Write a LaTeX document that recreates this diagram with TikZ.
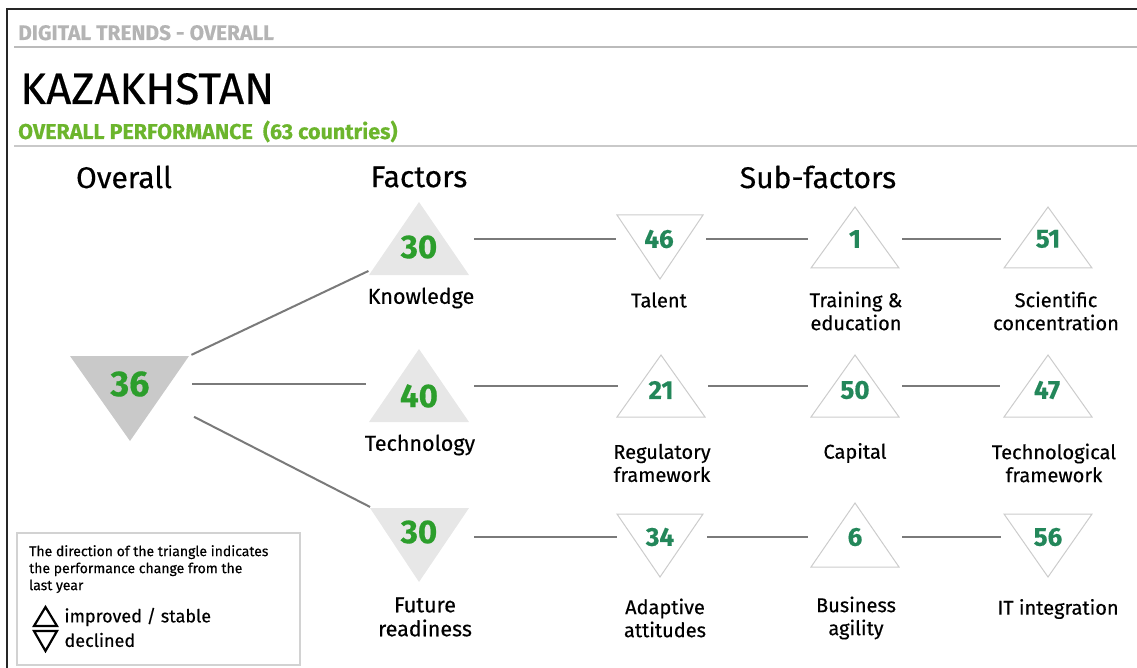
\documentclass[tikz,border=0pt]{standalone}
\usepackage{fontspec}
\setmainfont{Fira Sans}[FakeBold=0.4]
\definecolor{headgray}{HTML}{B4B4B4}
\definecolor{rulegray}{HTML}{BBBBBB}
\definecolor{perfgreen}{HTML}{6CB52D}
\definecolor{facgreen}{HTML}{2C9E2C}
\definecolor{subgreen}{HTML}{23875A}
\definecolor{ovrfill}{HTML}{C9C9C9}
\definecolor{facfill}{HTML}{E7E7E7}
\definecolor{subgray}{HTML}{CCCCCC}
\definecolor{linkgray}{HTML}{7A7A7A}
\definecolor{legendgray}{HTML}{D2D2D2}

\begin{document}
\begin{tikzpicture}[x=1pt, y=-1pt,
    head/.style={font=\fontsize{30}{30}\selectfont},
    lab/.style={font=\fontsize{20}{23}\selectfont, align=center},
    flab/.style={font=\fontsize{21.5}{24}\selectfont, align=center},
    ovrnum/.style={font=\fontsize{36}{36}\selectfont\bfseries, text=facgreen},
    facnum/.style={font=\fontsize{33}{33}\selectfont\bfseries, text=facgreen},
    subnum/.style={font=\fontsize{26}{26}\selectfont\bfseries, text=subgreen},
    link/.style={draw=linkgray, line width=2pt},
    facline/.style={link, shorten <=55pt, shorten >=43pt},
    subline/.style={link, shorten <=47pt, shorten >=47pt},
    subtri/.style={draw=subgray, line width=1pt, fill=white}]
    \useasboundingbox (0,0) rectangle (1137,668);

    % frame and header
    \draw       [black!85, line width=1.5pt]        (7,668) -- (7,9) -- (1137,9);           % frame
    \node       [anchor=base west, inner sep=0, text=headgray, font=\fontsize{21}{21}\selectfont\bfseries] (dig) at (18,40) {DIGITAL TRENDS - OVERALL};
    \draw       [rulegray, line width=2.5pt]        (14,47) -- (1137,47);                   % upper rule
    \node       [anchor=base west, inner sep=0, font=\fontsize{44}{44}\selectfont] (kaz) at (20,104) {KAZAKHSTAN};
    \node       [anchor=base west, inner sep=0, text=perfgreen, font=\fontsize{21.5}{21.5}\selectfont\bfseries] (perf) at (18,139) {OVERALL PERFORMANCE~~(63 countries)};
    \draw       [rulegray!80, line width=2pt]       (14,146) -- (1137,146);                 % lower rule

    % column heads
    \node       [head]  (hovr)  at (124,177)    {Overall};
    \node       [head]  (hfac)  at (419,177)    {Factors};
    \node       [head]  (hsub)  at (818,177)    {Sub-factors};

    % triangles
    \fill       [ovrfill]   (70,356) -- (189,356) -- (130,441) -- cycle;                % overall
    \fill       [facfill]   (419,202) -- (469,275) -- (369,275) -- cycle;              % knowledge
    \fill       [facfill]   (419,349) -- (469,422) -- (369,422) -- cycle;              % technology
    \fill       [facfill]   (370,508) -- (469,508) -- (419,582) -- cycle;              % future readiness
    \filldraw   [subtri]    (617,215) -- (703,215) -- (660,279) -- cycle;              % talent
    \filldraw   [subtri]    (855,207) -- (899,268) -- (811,268) -- cycle;              % training
    \filldraw   [subtri]    (1048,207) -- (1092,268) -- (1004,268) -- cycle;           % scientific
    \filldraw   [subtri]    (661,355) -- (705,417) -- (617,417) -- cycle;              % regulatory
    \filldraw   [subtri]    (855,355) -- (899,417) -- (811,417) -- cycle;              % capital
    \filldraw   [subtri]    (1048,355) -- (1092,417) -- (1004,417) -- cycle;           % tech. framework
    \filldraw   [subtri]    (617,514) -- (703,514) -- (660,577) -- cycle;              % adaptive
    \filldraw   [subtri]    (855,503) -- (899,567) -- (811,567) -- cycle;              % business
    \filldraw   [subtri]    (1004,514) -- (1092,514) -- (1048,577) -- cycle;           % IT integration

    % ranks
    \node       [ovrnum]    (ovr)   at (130,384)    {36};
    \node       [facnum]    (kno)   at (419,247)    {30};
    \node       [facnum]    (tec)   at (419,396)    {40};
    \node       [facnum]    (fut)   at (419,532)    {30};
    \node       [subnum]    (tal)   at (659,239)    {46};
    \node       [subnum]    (tra)   at (855,239)    {1};
    \node       [subnum]    (sci)   at (1048,239)   {51};
    \node       [subnum]    (reg)   at (661,390)    {21};
    \node       [subnum]    (cap)   at (855,390)    {50};
    \node       [subnum]    (tfw)   at (1047,390)   {47};
    \node       [subnum]    (ada)   at (660,537)    {34};
    \node       [subnum]    (bus)   at (855,537)    {6};
    \node       [subnum]    (iti)   at (1048,537)   {56};

    % names
    \node       [flab]  (lkno)  at (421,298)    {Knowledge};
    \node       [flab]  (ltec)  at (420,445)    {Technology};
    \node       [flab]  (lfut)  at (425,617)    {Future\\readiness};
    \node       [lab]   (ltal)  at (659,300)    {Talent};
    \node       [lab]   (ltra)  at (856,311)    {Training \&\\education};
    \node       [lab]   (lsci)  at (1056,311)   {Scientific\\concentration};
    \node       [lab]   (lreg)  at (662,463)    {Regulatory\\framework};
    \node       [lab]   (lcap)  at (855,453)    {Capital};
    \node       [lab]   (ltfw)  at (1054,463)   {Technological\\framework};
    \node       [lab]   (lada)  at (665,618)    {Adaptive\\attitudes};
    \node       [lab]   (lbus)  at (856,618)    {Business\\agility};
    \node       [lab]   (liti)  at (1058,609)   {IT integration};

    % connectors
    \draw       [link, shorten <=68pt, shorten >=56pt]      (ovr.center) -- (kno.center);
    \draw       [link, shorten <=62pt, shorten >=53pt]      (ovr.center) -- (ovr -| tec);
    \draw       [link, shorten <=72pt, shorten >=55pt]      (ovr.center) -- (fut.center);
    \draw       [facline]   (kno |- tal) -- (tal.center);
    \draw       [subline]   (tal.center) -- (tra.center);
    \draw       [subline]   (tra.center) -- (sci.center);
    \draw       [facline]   ([yshift=4pt]tec |- reg) -- ([yshift=4pt]reg.center);
    \draw       [subline]   ([yshift=4pt]reg.center) -- ([yshift=4pt]cap.center);
    \draw       [subline]   ([yshift=4pt]cap.center) -- ([yshift=4pt]tfw.center);
    \draw       [facline]   (fut |- ada) -- (ada.center);
    \draw       [subline]   (ada.center) -- (bus.center);
    \draw       [subline]   (bus.center) -- (iti.center);

    % legend
    \draw       [legendgray, line width=1.5pt]      (17,533) rectangle (300,665);           % legend box
    \node       [anchor=north west, inner sep=0, align=left, font=\fontsize{14}{17}\selectfont] (note) at (29,545) {The direction of the triangle indicates\\the performance change from the\\last year};
    \draw       [black, line width=2.2pt]           (45.5,607) -- (57,626) -- (34,626) -- cycle;   % up sign
    \draw       [black, line width=2.2pt]           (34,631) -- (57,631) -- (45.5,651) -- cycle;   % down sign
    \node       [anchor=west, font=\fontsize{18}{18}\selectfont] (imp) at (61,617) {improved / stable};
    \node       [anchor=west, font=\fontsize{18}{18}\selectfont] (dec) at (61,640) {declined};
\end{tikzpicture}
\end{document}
